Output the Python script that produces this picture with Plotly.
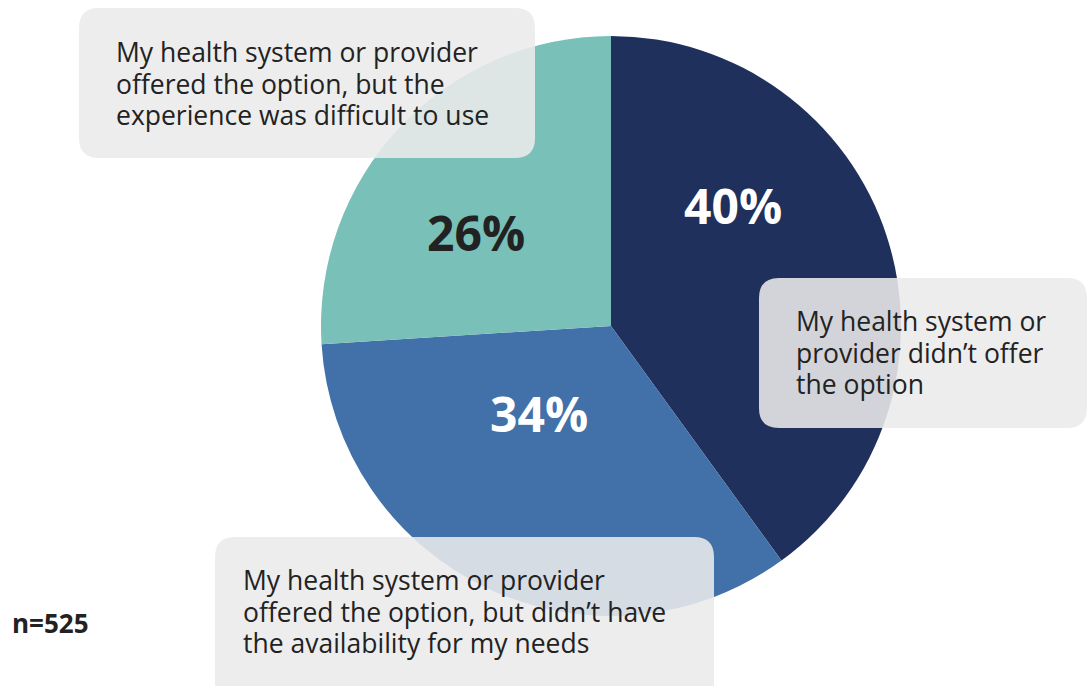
import plotly.graph_objects as go

W, H = 1087, 686

categories = [
    "My health system or provider didn’t offer the option",
    "My health system or provider offered the option, but didn’t have the availability for my needs",
    "My health system or provider offered the option, but the experience was difficult to use",
]
values = [40, 34, 26]
colors = ["#20305C", "#4270A8", "#78C0B8"]
pct_colors = ["#FFFFFF", "#FFFFFF", "#222222"]
box_lines = [
    ["My health system or", "provider didn’t offer", "the option"],
    ["My health system or provider", "offered the option, but didn’t have", "the availability for my needs"],
    ["My health system or provider", "offered the option, but the", "experience was difficult to use"],
]
sample_note = "n=525"

# layout (pixel positions on the page)
cx, cy, r = 611, 326, 290
pct_pos = [(733, 206), (539, 413), (476, 233)]
boxes = [(759, 278, 1087, 428), (215, 537, 714, 706), (79, 8, 535, 158)]
text_pos = [(794, 321), (241, 580), (114, 52)]
line_gap = 31.5

def px(x):
    return x / W

def py(y):
    return 1 - y / H

fig = go.Figure(go.Pie(
    labels=categories,
    values=values,
    marker=dict(colors=colors, line=dict(width=0)),
    sort=False,
    direction="clockwise",
    rotation=0,
    textinfo="none",
    hoverinfo="label+percent",
    showlegend=False,
    domain=dict(x=[px(cx - r), px(cx + r)], y=[py(cy + r), py(cy - r)]),
))

def rounded_rect(x0, y0, x1, y1, rad=20):
    rx, ry = rad / W, rad / H
    X0, X1 = px(x0), px(x1)
    Y0, Y1 = py(y0), py(y1)  # Y0 top, Y1 bottom
    return (f"M {X0+rx},{Y0} L {X1-rx},{Y0} Q {X1},{Y0} {X1},{Y0-ry} "
            f"L {X1},{Y1+ry} Q {X1},{Y1} {X1-rx},{Y1} "
            f"L {X0+rx},{Y1} Q {X0},{Y1} {X0},{Y1+ry} "
            f"L {X0},{Y0-ry} Q {X0},{Y0} {X0+rx},{Y0} Z")

shapes = []
for (x0, y0, x1, y1) in boxes:
    shapes.append(dict(type="path", xref="paper", yref="paper",
                       path=rounded_rect(x0, y0, x1, y1),
                       fillcolor="rgba(235,235,235,0.88)", line=dict(width=0),
                       layer="above"))

annotations = []
for v, c, (x, y) in zip(values, pct_colors, pct_pos):
    annotations.append(dict(x=px(x), y=py(y), xref="paper", yref="paper",
                            text=f"<b>{v}%</b>", showarrow=False,
                            xanchor="center", yanchor="middle",
                            font=dict(family="Open Sans", size=48, color=c)))
for lines, (x, y) in zip(box_lines, text_pos):
    for i, t in enumerate(lines):
        annotations.append(dict(x=px(x), y=py(y + i * line_gap), xref="paper", yref="paper",
                                text=t, showarrow=False, align="left",
                                xanchor="left", yanchor="middle",
                                font=dict(family="Open Sans", size=26.5, color="#222222")))
annotations.append(dict(x=px(10), y=py(623), xref="paper", yref="paper",
                        text=f"<b>{sample_note}</b>", showarrow=False,
                        xanchor="left", yanchor="middle",
                        font=dict(family="Open Sans", size=26, color="#222222")))

fig.update_layout(
    width=W, height=H,
    margin=dict(l=0, r=0, t=0, b=0),
    paper_bgcolor="white", plot_bgcolor="white",
    shapes=shapes, annotations=annotations,
)

fig.write_html("out.html", config={"displayModeBar": False},
               post_script="document.body.style.margin='0';document.body.style.overflow='hidden';")
